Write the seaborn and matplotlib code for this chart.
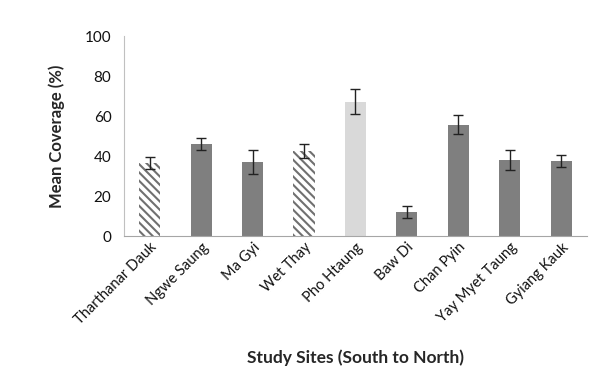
import matplotlib
matplotlib.use("Agg")
import matplotlib.pyplot as plt
import seaborn as sns
import pandas as pd

# study sites and mean coverage
sites = ["Tharthanar Dauk", "Ngwe Saung", "Ma Gyi", "Wet Thay", "Pho Htaung",
         "Baw Di", "Chan Pyin", "Yay Myet Taung", "Gyiang Kauk"]
means = [36.5, 46.0, 37.2, 42.6, 67.2, 12.0, 55.7, 38.0, 37.5]
errors = [3.1, 2.8, 6.0, 3.4, 6.3, 2.8, 4.6, 4.8, 3.2]
site_type = ["hatched", "dark", "dark", "hatched", "light",
             "dark", "dark", "dark", "dark"]

colors = {"dark": "#7f7f7f", "light": "#d9d9d9", "hatched": "white"}

df = pd.DataFrame({"site": sites, "mean": means, "err": errors, "type": site_type})

sns.set_style("white")
plt.rcParams["font.family"] = ["Lato", "DejaVu Sans"]
plt.rcParams["hatch.linewidth"] = 1.5

fig = plt.figure(figsize=(6.06, 3.86), dpi=100)
ax = fig.add_axes([0.2046, 0.3886, 0.764, 0.5181])

sns.barplot(data=df, x="site", y="mean", hue="site",
            palette=[colors[t] for t in site_type], legend=False,
            width=0.41, linewidth=0, ax=ax)

# hatched bars: white face with grey diagonal stripes
for patch, t in zip(ax.patches, site_type):
    if t == "hatched":
        patch.set_edgecolor("#707070")
        patch.set_hatch("\\\\\\\\")
        patch.set_linewidth(0)

ax.errorbar(range(len(sites)), df["mean"], yerr=df["err"], fmt="none",
            ecolor="#222222", elinewidth=1, capsize=3.5, capthick=1)

ax.set_xlim(-0.5, len(sites) - 0.5)
ax.set_ylim(0, 100)
ax.set_yticks([0, 20, 40, 60, 80, 100])
ax.tick_params(axis="y", labelsize=11, length=4, color="#bfbfbf", pad=5,
               labelcolor="#111111")
ax.tick_params(axis="x", labelsize=10.5, length=0, pad=3, labelcolor="#111111")
plt.setp(ax.get_xticklabels(), rotation=45, ha="right", rotation_mode="anchor")

for s in ["top", "right"]:
    ax.spines[s].set_visible(False)
ax.spines["left"].set_color("#c0c0c0")
ax.spines["bottom"].set_color("#a6a6a6")

ax.set_xlabel("Study Sites (South to North)", fontsize=12.5, fontweight="bold", labelpad=16)
ax.set_ylabel("Mean Coverage (%)", fontsize=12, fontweight="bold", labelpad=14)

fig.savefig("out.png", dpi=100)
